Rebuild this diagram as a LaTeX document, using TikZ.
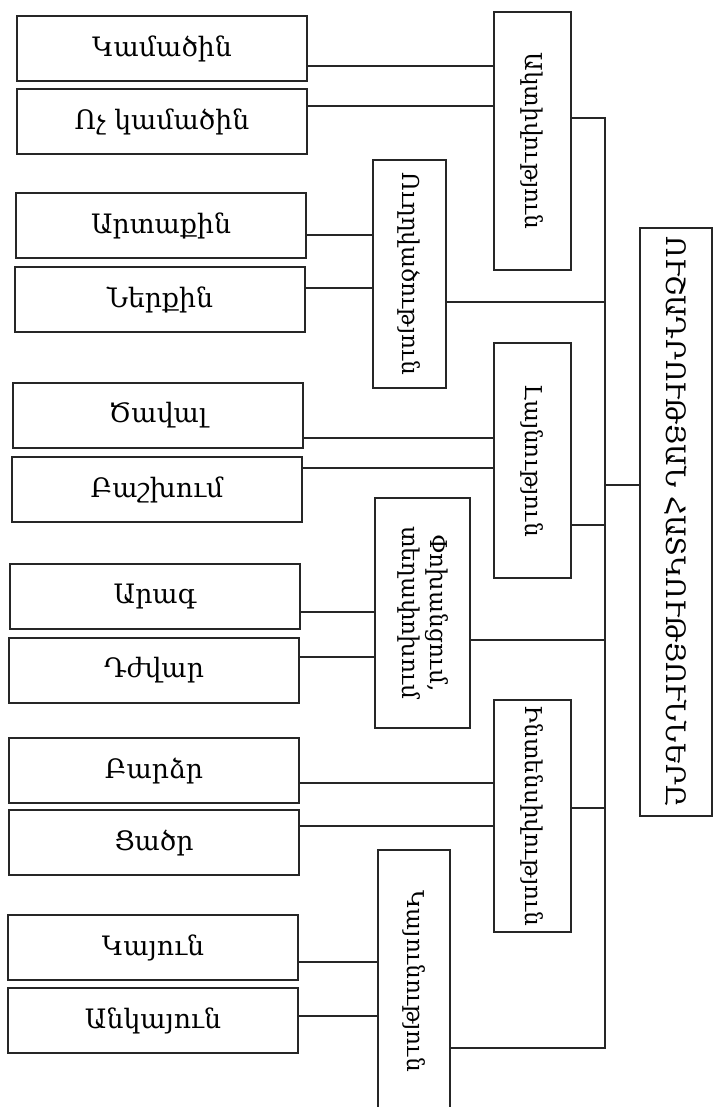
\documentclass[tikz,border=0pt]{standalone}
\usepackage{fontspec}
\setmainfont{DejaVu Serif}
\usepackage{tikz}

\def\px{0.025cm}
\tikzset{
  leaf/.style={draw=black!85, line width=1pt, minimum width=290*\px, minimum height=65*\px, inner sep=0pt, font=\fontsize{19}{22}\selectfont},
  kind/.style={draw=black!85, line width=1pt, inner sep=0pt, font=\fontsize{16.5}{20}\selectfont},
  wire/.style={draw=black!85, line width=0.8pt}
}

\begin{document}
\begin{tikzpicture}[x=\px, y=-\px]
        \clip (0,0) rectangle (715,1107);

        % Root
        \node[kind, font=\fontsize{19}{22}\selectfont, minimum width=72*\px, minimum height=588*\px] (root) at (676,522)
          {\rotatebox{-90}{ՈՒՇԱԴՐՈՒԹՅԱՆ ՀԱՏԿՈՒԹՅՈՒՆՆԵՐԸ}};

        % Properties
        \node[kind, minimum width=77*\px, minimum height=258*\px] (act) at (532.5,141) {\rotatebox{-90}{Ակտիվություն}};
        \node[kind, minimum width=73*\px, minimum height=228*\px] (dir) at (409.5,274) {\rotatebox{-90}{Ուղղվածություն}};
        \node[kind, minimum width=77*\px, minimum height=235*\px] (wid) at (532.5,460.5) {\rotatebox{-90}{Լայնություն}};
        \node[kind, minimum width=95*\px, minimum height=230*\px] (swi) at (422.5,613)
          {\rotatebox{-90}{\begin{tabular}{@{}c@{}}Փոխանցում,\\տեղափոխում\end{tabular}}};
        \node[kind, minimum width=77*\px, minimum height=232*\px] (int) at (532.5,816) {\rotatebox{-90}{Ինտենսիվություն}};
        \node[kind, minimum width=72*\px, minimum height=262*\px] (sta) at (414,981) {\rotatebox{-90}{Կայունություն}};

        % Kinds
        \node[leaf] (k1) at (162,48.5) {Կամածին};
        \node[leaf] (k2) at (162,121.5) {Ոչ կամածին};
        \node[leaf] (o1) at (161,225.5) {Արտաքին};
        \node[leaf] (o2) at (160,299.5) {Ներքին};
        \node[leaf] (l1) at (158,415.5) {Ծավալ};
        \node[leaf] (l2) at (157,489.5) {Բաշխում};
        \node[leaf] (p1) at (155,596.5) {Արագ};
        \node[leaf] (p2) at (154,670.5) {Դժվար};
        \node[leaf] (i1) at (154,770.5) {Բարձր};
        \node[leaf] (i2) at (154,842.5) {Ցածր};
        \node[leaf] (s1) at (153,947.5) {Կայուն};
        \node[leaf] (s2) at (153,1020.5) {Անկայուն};

        % Kinds to properties
        \foreach \n/\m/\y in {k1/act/66, k2/act/106, o1/dir/235, o2/dir/288,
                              l1/wid/438, l2/wid/468, p1/swi/612, p2/swi/657,
                              i1/int/783, i2/int/826, s1/sta/962, s2/sta/1016}
          \draw[wire] (\n.east |- 0,\y) -- (\m.west |- 0,\y);

        % Trunk
        \coordinate (tt) at (605,118);
        \coordinate (tb) at (605,1048);
        \draw[wire] (act.east |- tt) -- (tt) -- (tb) -- (sta.east |- tb);
        \foreach \m/\y in {dir/302, wid/525, swi/640, int/808}
          \draw[wire] (\m.east |- 0,\y) -- (tt |- 0,\y);
        \draw[wire] (tt |- 0,485) -- (root.west |- 0,485);
    \end{tikzpicture}
\end{document}
